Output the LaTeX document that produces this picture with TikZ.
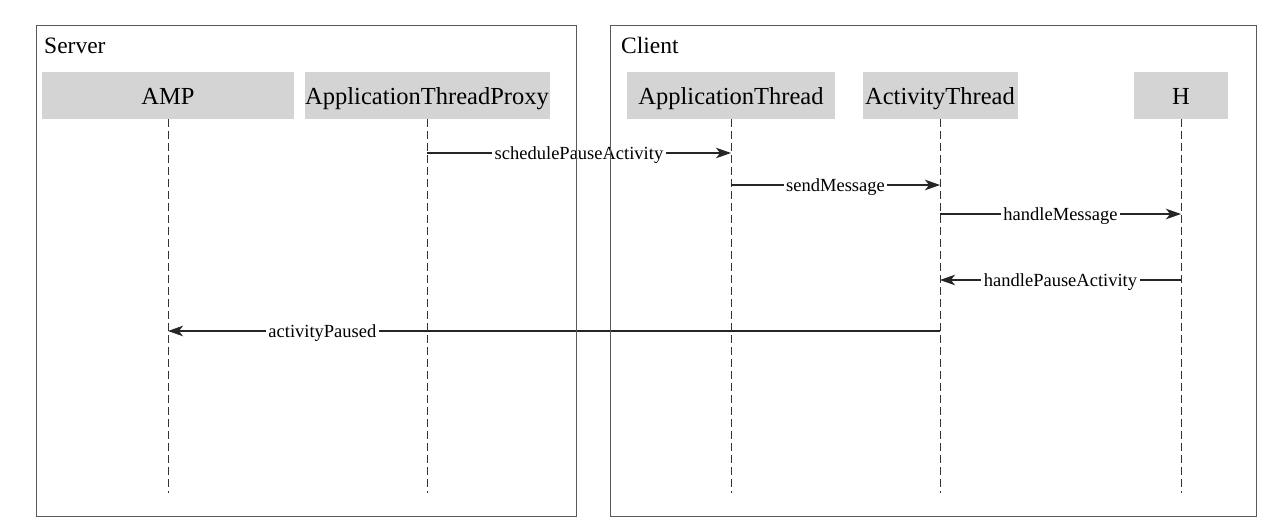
\documentclass[tikz,border=0pt]{standalone}
\usepackage{fontspec}
\setmainfont{Liberation Serif}
\usetikzlibrary{arrows.meta}
\begin{document}
\begin{tikzpicture}[x=1pt,y=-1pt,
  frame/.style={draw=black!65,line width=1.3pt,rectangle,anchor=north west,inner sep=0pt},
  ftitle/.style={anchor=base west,inner sep=0pt,font=\fontsize{23.5}{26}\selectfont},
  hdr/.style={fill=black!17,rectangle,minimum height=47pt,inner sep=0pt,text height=20pt,text depth=1pt,font=\fontsize{24.5}{28}\selectfont},
  life/.style={draw=black!80,line width=0.8pt,dash pattern=on 8pt off 4pt},
  msg/.style={draw=black!85,line width=1.1pt,-{Stealth[length=15pt,width=10.5pt,inset=4pt]}},
  lbl/.style={fill=white,inner sep=2.5pt,yshift=-2pt,font=\fontsize{18.5}{21}\selectfont}]
\useasboundingbox[fill=white] (0,0) rectangle (1286,529);
% headers
\node[hdr,minimum width=252pt] (amp) at (168,95.5) {AMP};
\node[hdr,minimum width=245pt] (atp) at (427,95.5) {ApplicationThreadProxy};
\node[hdr,minimum width=208pt] (apt) at (731,95.5) {ApplicationThread};
\node[hdr,minimum width=155pt] (act) at (940,95.5) {ActivityThread};
\node[hdr,minimum width=94pt] (h) at (1181,95.5) {H};
% lifelines
\foreach \n in {amp,atp,apt,act,h}{
  \coordinate (\n-end) at (\n |- 0,493);
  \draw[life] (\n.south) -- (\n-end);
}
% messages
\draw[msg] (atp |- 0,153) -- node[lbl,pos=0.5]{schedulePauseActivity} (apt |- 0,153);
\draw[msg] (apt |- 0,185) -- node[lbl]{sendMessage} (act |- 0,185);
\draw[msg] (act |- 0,214) -- node[lbl]{handleMessage} (h |- 0,214);
\draw[msg] (h |- 0,280) -- node[lbl]{handlePauseActivity} (act |- 0,280);
\draw[msg] (act |- 0,331) -- node[lbl,pos=0.8]{activityPaused} (amp |- 0,331);
% frames (on top)
\node[frame,minimum width=540pt,minimum height=491pt] (server) at (36,25) {};
\node[frame,minimum width=646pt,minimum height=491pt] (client) at (610,25) {};
\node[ftitle] (st) at (44,54) {Server};
\node[ftitle] (ct) at (621,54) {Client};
\end{tikzpicture}
\end{document}
